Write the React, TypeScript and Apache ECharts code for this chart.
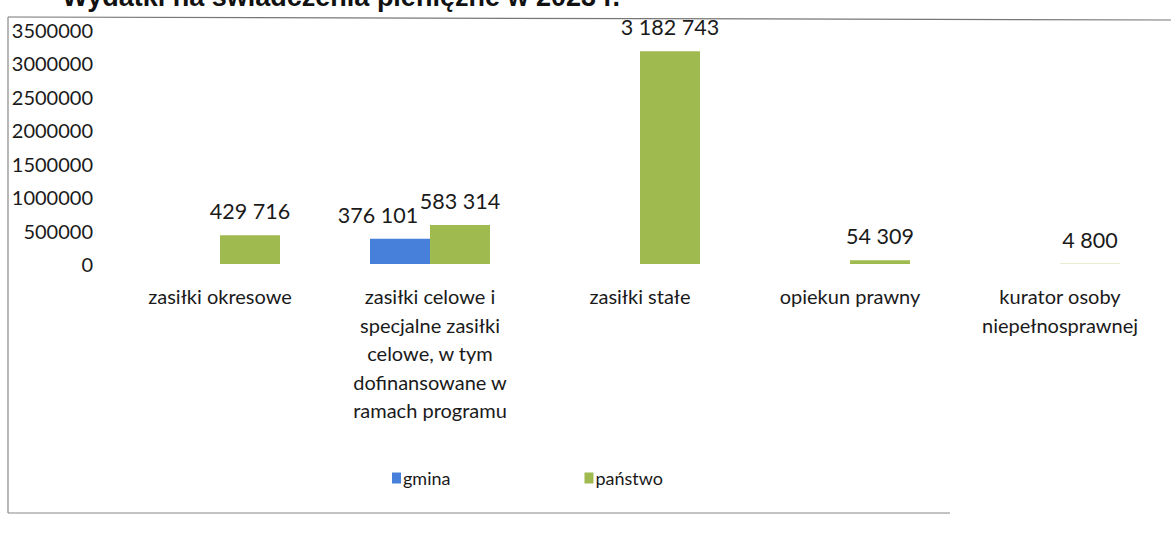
import React, { useEffect, useRef } from "react";
import * as echarts from "echarts";

const categories = [
  "zasiłki okresowe",
  "zasiłki celowe i\nspecjalne zasiłki\ncelowe, w tym\ndofinansowane w\nramach programu",
  "zasiłki stałe",
  "opiekun prawny",
  "kurator osoby\nniepełnosprawnej",
];
const gmina: (number | null)[] = [null, 376101, null, null, null];
const panstwo: (number | null)[] = [429716, 583314, 3182743, 54309, 4800];
const seriesNames = ["gmina", "państwo"];
const titleText = "Wydatki na świadczenia pieniężne w 2023 r.";

const fmt = (v: number) => String(v).replace(/\B(?=(\d{3})+(?!\d))/g, " ");

export default function App() {
  const ref = useRef<HTMLDivElement>(null);
  useEffect(() => {
    if (!ref.current) return;
    const chart = echarts.init(ref.current, undefined, { renderer: "svg" });
    const font = "Lato, 'Open Sans', sans-serif";
    const labelStyle = {
      show: true,
      position: "top" as const,
      distance: 13,
      fontFamily: font,
      fontSize: 21.5,
      color: "#1a1a1a",
      formatter: (p: any) => (p.value == null ? "" : fmt(p.value)),
    };
    chart.setOption({
      animation: false,
      backgroundColor: "#ffffff",
      textStyle: { fontFamily: font },
      grid: { left: 115, width: 1050, top: 30, height: 234, containLabel: false },
      legend: {
        data: seriesNames,
        left: 387,
        top: 464,
        icon: "rect",
        itemWidth: 9,
        itemHeight: 11,
        itemGap: 134,
        textStyle: { fontFamily: font, fontSize: 18, color: "#1a1a1a", padding: [0, 0, 0, -3] },
      },
      xAxis: {
        type: "category",
        data: categories,
        axisLine: { show: false },
        axisTick: { show: false },
        axisLabel: {
          interval: 0,
          margin: 18,
          fontFamily: font,
          fontSize: 20,
          lineHeight: 28.5,
          color: "#1a1a1a",
          align: "center",
        },
      },
      yAxis: {
        type: "value",
        min: 0,
        max: 3500000,
        interval: 500000,
        splitLine: { show: false },
        axisLine: { show: false },
        axisTick: { show: false },
        axisLabel: {
          fontFamily: font,
          fontSize: 20,
          color: "#1a1a1a",
          margin: 22,
          formatter: (v: number) => String(v),
        },
      },
      series: [
        {
          name: seriesNames[0],
          type: "bar",
          data: gmina,
          barWidth: 60,
          barGap: "0%",
          itemStyle: { color: "#4680da" },
          label: { ...labelStyle, offset: [-22, 0] },
        },
        {
          name: seriesNames[1],
          type: "bar",
          data: panstwo,
          barWidth: 60,
          barGap: "0%",
          itemStyle: { color: "#9fba4e" },
          label: labelStyle,
        },
      ],
      graphic: [
        {
          type: "text",
          x: 620,
          y: 10,
          style: {
            text: titleText,
            align: "right",
            verticalAlign: "bottom",
            fontFamily: "'Liberation Sans', Arial, sans-serif",
            fontWeight: "bold",
            fontSize: 27,
            fill: "#111",
          },
        },
        { type: "line", shape: { x1: 8, y1: 17, x2: 1171, y2: 20 }, style: { stroke: "#777", lineWidth: 1.2 } },
        { type: "line", shape: { x1: 8, y1: 17, x2: 8, y2: 513 }, style: { stroke: "#888", lineWidth: 1.2 } },
        { type: "line", shape: { x1: 8, y1: 513, x2: 950, y2: 513 }, style: { stroke: "#888", lineWidth: 1.2 } },
      ],
    });
    return () => chart.dispose();
  }, []);
  return <div ref={ref} style={{ width: 1171, height: 533, position: "absolute", left: 0, top: 0 }} />;
}
